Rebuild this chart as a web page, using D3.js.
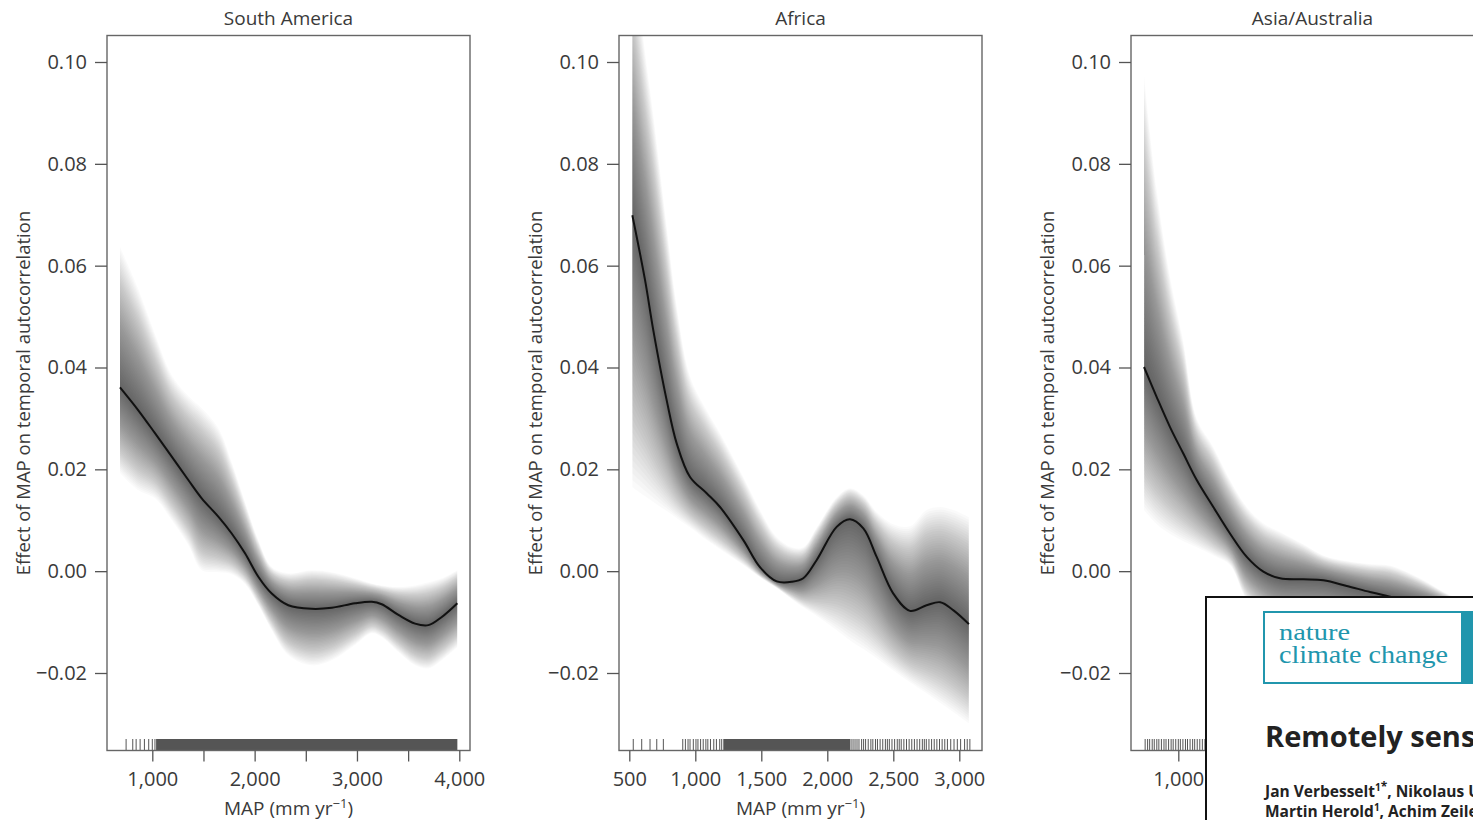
<!DOCTYPE html>
<html>
<head>
<meta charset="utf-8">
<script src="https://cdn.jsdelivr.net/npm/d3@7"></script>
<style>
body { margin: 0; background: #fff; overflow: hidden; }
text { font-family: "Open Sans", sans-serif; fill: #3a3a3a; }
</style>
</head>
<body>
<script>
// ---- data ----
var regions = ["South America", "Africa", "Asia/Australia"];

// South America: smooth fit and pointwise interval
var saMap   = [684, 863, 1026, 1190, 1352, 1483, 1645, 1776, 1906, 2036, 2167, 2329, 2558, 2754, 2981, 3145, 3242, 3405, 3568, 3698, 3829, 3981];
var saFit   = [0.0361, 0.0316, 0.0271, 0.0225, 0.0179, 0.0143, 0.0107, 0.0074, 0.0035, -0.0011, -0.0044, -0.0067, -0.0074, -0.0072, -0.0063, -0.0060, -0.0065, -0.0086, -0.0103, -0.0106, -0.0090, -0.0063];
var saUpper = [0.0637, 0.0554, 0.0466, 0.0385, 0.0344, 0.0320, 0.0281, 0.0214, 0.0136, 0.0061, 0.0008, -0.0004, 0.0002, -0.0002, -0.0014, -0.0024, -0.0028, -0.0031, -0.0028, -0.0022, -0.0014, 0.0002];
var saLower = [0.0193, 0.0159, 0.0143, 0.0100, 0.0051, 0.0002, -0.0002, -0.0006, -0.0025, -0.0067, -0.0116, -0.0165, -0.0185, -0.0175, -0.0145, -0.0122, -0.0130, -0.0159, -0.0185, -0.0191, -0.0175, -0.0149];
var saRugTicks = [744, 809, 842, 881, 923, 965, 1000, 1026];
var saRugDense = [[1037, 3981]];

// Africa
var afMap   = [523, 619, 682, 783, 859, 960, 1086, 1187, 1364, 1490, 1617, 1730, 1818, 1920, 2071, 2172, 2273, 2374, 2500, 2626, 2752, 2856, 2956, 3073];
var afFit   = [0.0699, 0.0572, 0.0473, 0.0336, 0.0251, 0.0185, 0.0153, 0.0126, 0.0061, 0.0008, -0.0020, -0.0021, -0.0014, 0.0022, 0.0087, 0.0102, 0.0084, 0.0028, -0.0044, -0.0078, -0.0067, -0.0061, -0.0077, -0.0104];
var afUpper = [0.1220, 0.1020, 0.0896, 0.0678, 0.0521, 0.0383, 0.0316, 0.0271, 0.0185, 0.0120, 0.0067, 0.0047, 0.0047, 0.0086, 0.0145, 0.0163, 0.0149, 0.0116, 0.0092, 0.0088, 0.0120, 0.0126, 0.0120, 0.0106];
var afLower = [0.0165, 0.0147, 0.0136, 0.0118, 0.0104, 0.0086, 0.0061, 0.0043, 0.0012, -0.0012, -0.0033, -0.0055, -0.0071, -0.0088, -0.0116, -0.0136, -0.0153, -0.0171, -0.0195, -0.0218, -0.0240, -0.0259, -0.0277, -0.0299];
var afRugTicks = [530, 594, 657, 708, 758, 905, 925, 945, 960, 985, 1005, 1020, 1040, 1060, 1080, 1095, 1115, 1140, 1160, 1185, 1200,
                  2180, 2195, 2210, 2225, 2240, 2260, 2275, 2290, 2310, 2330, 2345, 2365, 2380, 2400, 2420, 2440, 2455, 2470, 2490, 2510,
                  2530, 2545, 2560, 2580, 2600, 2620, 2640, 2660, 2680, 2700, 2720, 2735, 2750, 2770, 2790, 2810, 2830, 2850, 2870, 2890,
                  2910, 2935, 2960, 2985, 3010, 3040, 3060, 3080];
var afRugDense = [[1212, 2172]];

// Asia/Australia (right part hidden under the journal page)
var asMap   = [665, 789, 919, 1049, 1180, 1342, 1505, 1669, 1831, 1994, 2222, 2417, 2646, 2874, 3069, 3362, 3656, 3949];
var asFit   = [0.0401, 0.0342, 0.0283, 0.0231, 0.0179, 0.0126, 0.0074, 0.0028, -0.0001, -0.0014, -0.0016, -0.0018, -0.0029, -0.0041, -0.0050, -0.0060, -0.0070, -0.0080];
var asUpper = [0.0974, 0.0749, 0.0578, 0.0450, 0.0300, 0.0244, 0.0179, 0.0126, 0.0094, 0.0077, 0.0053, 0.0031, 0.0020, 0.0014, 0.0011, -0.0014, -0.0047, -0.0067];
var asLower = [0.0120, 0.0092, 0.0073, 0.0059, 0.0047, 0.0031, 0.0012, -0.0057, -0.0086, -0.0106, -0.0115, -0.0120, -0.0130, -0.0140, -0.0150, -0.0160, -0.0170, -0.0180];
var asRugTicks = [676, 700, 720, 745, 765, 790, 810, 835, 860, 880, 905, 930, 950, 975, 1000, 1020, 1045, 1070, 1090, 1115, 1140, 1160, 1185, 1210, 1235, 1260];
var asRugDense = [[1270, 3950]];

var yTicks = [-0.02, 0.00, 0.02, 0.04, 0.06, 0.08, 0.10];
var saXTicks = [1000, 1500, 2000, 2500, 3000, 3500, 4000];
var afXTicks = [500, 1000, 1500, 2000, 2500, 3000];
var asXTicks = [1000, 1500, 2000, 2500, 3000, 3500, 4000];
var saXLabels = [1000, 2000, 3000, 4000];
var afXLabels = [500, 1000, 1500, 2000, 2500, 3000];
var asXLabels = [1000];   // the others sit under the journal page

// ---- layout ----
var W = 1473, H = 820;
var boxTop = 35.5, boxBottom = 750.5, boxW = 363;
var panelLeft = [107, 619, 1131];
var nLayers = 40;

var panels = [
  {name: regions[0], map: saMap, fit: saFit, up: saUpper, lo: saLower, rug: saRugTicks, dense: saRugDense,
   ticks: saXTicks, labels: saXLabels, dom: [1000, 4000], rng: [45.3, 352.3], xTitle: true},
  {name: regions[1], map: afMap, fit: afFit, up: afUpper, lo: afLower, rug: afRugTicks, dense: afRugDense,
   ticks: afXTicks, labels: afXLabels, dom: [500, 3000], rng: [10.3, 340.3], xTitle: true},
  {name: regions[2], map: asMap, fit: asFit, up: asUpper, lo: asLower, rug: asRugTicks, dense: asRugDense,
   ticks: asXTicks, labels: asXLabels, dom: [1000, 4000], rng: [47.3, 354.3], xTitle: false}
];

var svg = d3.select("body").append("svg")
    .attr("width", W)
    .attr("height", H);

var y = d3.scaleLinear().domain([-0.02, 0.10]).range([673, 62]);

panels.forEach(function(p, i) {
  var g = svg.append("g").attr("transform", "translate(" + panelLeft[i] + ",0)");
  var x = d3.scaleLinear().domain(p.dom).range(p.rng);

  var rows = p.map.map(function(m, j) {
    return {m: m, f: p.fit[j], u: p.up[j], l: p.lo[j]};
  });

  g.append("clipPath").attr("id", "clip" + i)
    .append("rect").attr("x", 0).attr("y", boxTop).attr("width", boxW).attr("height", boxBottom - boxTop);

  // shaded interval: nested bands, darker near the fit
  var bands = g.append("g").attr("clip-path", "url(#clip" + i + ")");
  for (var k = 1; k <= nLayers; k++) {
    var t = k / nLayers;
    var area = d3.area()
      .curve(d3.curveCatmullRom.alpha(0.5))
      .x(function(d) { return x(d.m); })
      .y0(function(d) { return y(d.f + (d.l - d.f) * t); })
      .y1(function(d) { return y(d.f + (d.u - d.f) * t); });
    bands.append("path")
      .datum(rows)
      .attr("d", area)
      .attr("fill", "#000")
      .attr("fill-opacity", 0.021);
  }

  // fitted curve
  bands.append("path")
    .datum(rows)
    .attr("d", d3.line().curve(d3.curveCatmullRom.alpha(0.5))
      .x(function(d) { return x(d.m); })
      .y(function(d) { return y(d.f); }))
    .attr("fill", "none")
    .attr("stroke", "#111")
    .attr("stroke-width", 2);

  // rug
  var rugG = g.append("g").attr("clip-path", "url(#clip" + i + ")");
  rugG.selectAll(".rugd").data(p.dense).enter().append("rect")
    .attr("x", function(d) { return x(d[0]); })
    .attr("width", function(d) { return x(d[1]) - x(d[0]); })
    .attr("y", 739).attr("height", boxBottom - 739)
    .attr("fill", "#555");
  rugG.selectAll(".rugt").data(p.rug).enter().append("line")
    .attr("x1", function(d) { return x(d); }).attr("x2", function(d) { return x(d); })
    .attr("y1", 739).attr("y2", boxBottom)
    .attr("stroke", "#555").attr("stroke-width", 1);

  // box
  g.append("rect")
    .attr("x", 0).attr("y", boxTop).attr("width", boxW).attr("height", boxBottom - boxTop)
    .attr("fill", "none").attr("stroke", "#666").attr("stroke-width", 1.4);

  // y axis
  var yAx = g.append("g")
    .call(d3.axisLeft(y).tickValues(yTicks).tickSize(12).tickPadding(8).tickFormat(d3.format(".2f")));
  yAx.select(".domain").remove();
  yAx.selectAll("line").attr("stroke", "#555").attr("stroke-width", 1.3);
  yAx.selectAll("text").style("font-size", "20px").attr("fill", "#3a3a3a");

  // x axis
  var xAx = g.append("g")
    .attr("transform", "translate(0," + boxBottom + ")")
    .call(d3.axisBottom(x).tickValues(p.ticks).tickSize(11).tickPadding(10)
      .tickFormat(function(d) { return p.labels.indexOf(d) >= 0 ? d3.format(",")(d) : ""; }));
  xAx.select(".domain").remove();
  xAx.selectAll("line").attr("stroke", "#555").attr("stroke-width", 1.3);
  xAx.selectAll("text").style("font-size", "20px").attr("fill", "#3a3a3a");
  xAx.selectAll("text").filter(function(d) { return p.labels.indexOf(d) < 0; }).remove();

  // titles
  g.append("text")
    .attr("x", boxW / 2).attr("y", 25)
    .attr("text-anchor", "middle")
    .style("font-size", "19px")
    .text(p.name);

  if (p.xTitle) {
    var xt = g.append("text")
      .attr("x", boxW / 2).attr("y", 815)
      .attr("text-anchor", "middle")
      .style("font-size", "19px");
    xt.append("tspan").text("MAP (mm yr");
    xt.append("tspan").attr("dy", -7).style("font-size", "13px").text("\u22121");
    xt.append("tspan").attr("dy", 7).text(")");
  }

  g.append("text")
    .attr("transform", "translate(-85," + 393 + ") rotate(-90)")
    .attr("text-anchor", "middle")
    .attr("dominant-baseline", "central")
    .style("font-size", "18.5px")
    .text("Effect of MAP on temporal autocorrelation");
});

// ---- journal page overlay (bottom right) ----
var ov = svg.append("g");
ov.append("rect")
  .attr("x", 1206).attr("y", 597).attr("width", 320).attr("height", 260)
  .attr("fill", "#fff").attr("stroke", "#111").attr("stroke-width", 2);
ov.append("rect")
  .attr("x", 1264).attr("y", 612).attr("width", 198).attr("height", 71)
  .attr("fill", "none").attr("stroke", "#2196ad").attr("stroke-width", 2);
ov.append("rect")
  .attr("x", 1463).attr("y", 611).attr("width", 30).attr("height", 73)
  .attr("fill", "#2196ad");
ov.append("text")
  .attr("x", 1279).attr("y", 640)
  .attr("textLength", 71).attr("lengthAdjust", "spacingAndGlyphs")
  .style("font-family", "'Liberation Serif', serif").style("font-size", "24px")
  .style("fill", "#2196ad")
  .text("nature");
ov.append("text")
  .attr("x", 1279).attr("y", 663)
  .style("font-family", "'Liberation Serif', serif").style("font-size", "25px")
  .attr("textLength", 169).attr("lengthAdjust", "spacingAndGlyphs")
  .style("fill", "#2196ad")
  .text("climate change");
ov.append("text")
  .attr("x", 1265).attr("y", 747)
  .style("font-size", "29px").style("font-weight", "bold").style("fill", "#222")
  .text("Remotely sens");

var a1 = ov.append("text").attr("x", 1265).attr("y", 797)
  .style("font-size", "15.5px").style("font-weight", "bold").style("fill", "#222");
a1.append("tspan").text("Jan Verbesselt");
a1.append("tspan").attr("dy", -6).style("font-size", "10px").text("1");
a1.append("tspan").attr("dy", 0).style("font-size", "12px").text("*");
a1.append("tspan").attr("dy", 6).text(", Nikolaus U");
var a2 = ov.append("text").attr("x", 1265).attr("y", 817)
  .style("font-size", "15.5px").style("font-weight", "bold").style("fill", "#222");
a2.append("tspan").text("Martin Herold");
a2.append("tspan").attr("dy", -6).style("font-size", "10px").text("1");
a2.append("tspan").attr("dy", 6).text(", Achim Zeile");
</script>
</body>
</html>
